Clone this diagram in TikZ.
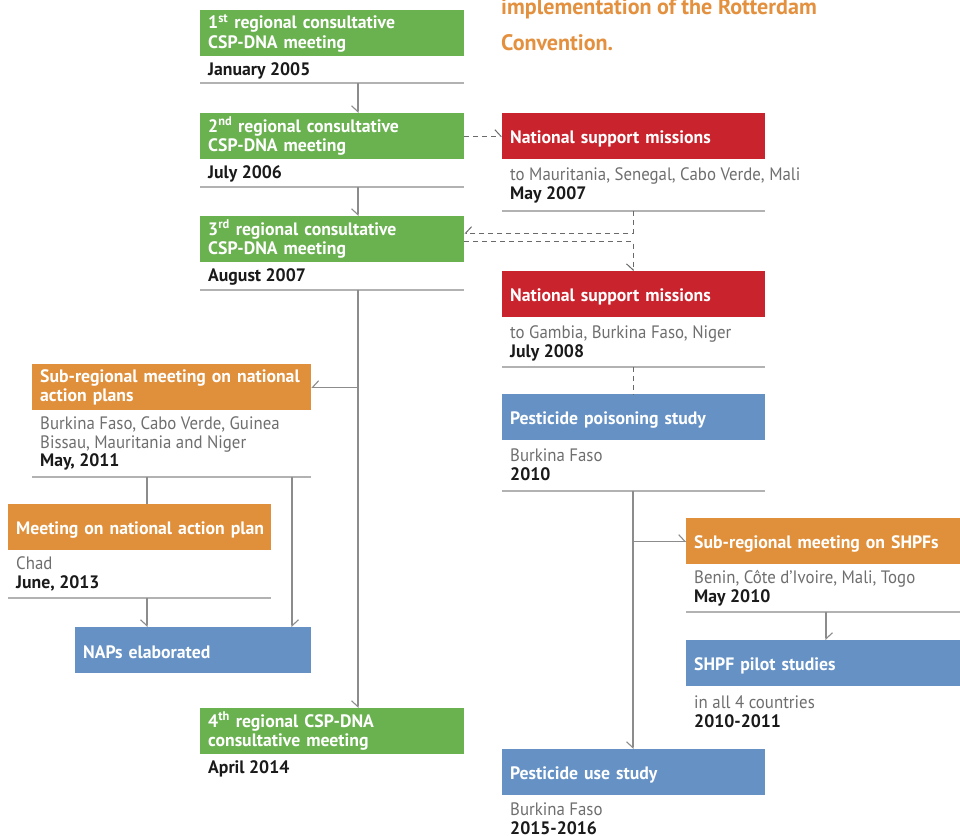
\documentclass[tikz,border=0pt]{standalone}
\usepackage{fontspec}
\setmainfont{PT Sans}[FakeStretch=0.935, BoldFeatures={FakeStretch=0.985}]
\usetikzlibrary{arrows.meta}
\definecolor{cgreen}{HTML}{6AB150}
\definecolor{cred}{HTML}{C9242D}
\definecolor{corange}{HTML}{E08F3A}
\definecolor{cblue}{HTML}{6591C5}
\definecolor{ctitle}{HTML}{E3903F}
\definecolor{ctext}{HTML}{6E6E6E}
\definecolor{cdate}{HTML}{1A1A1A}
\definecolor{csep}{HTML}{B2B2B2}
\definecolor{cconn}{HTML}{8C8C8C}
\definecolor{cdash}{HTML}{6A6A6A}
\newcommand\infobox[4][6]{\parbox[t][#2pt][t]{#3pt}{\raggedright\vspace*{#1pt}#4}}
\newcommand\dt[1]{{\bfseries\color{cdate}#1}}
\newcommand\low[1]{\raisebox{-2.5pt}[\height][\depth]{#1}}
\tikzset{
  box/.style={anchor=north west, inner xsep=8pt, inner ysep=0pt, minimum height=46pt, text width=#1, align=left, text=white, font=\fontsize{18}{19.5}\selectfont\bfseries},
  info/.style={anchor=north west, inner xsep=8pt, inner ysep=0pt, text=ctext, font=\fontsize{18}{18.7}\selectfont},
  sepline/.style={draw=csep, line width=1.4pt},
  conn/.style={draw=cconn, line width=1.1pt},
  dconn/.style={draw=cdash, line width=1pt, dash pattern=on 5pt off 4pt},
  tipl/.style={-{Straight Barb[harpoon,length=6pt,width=13pt]}},
  tipr/.style={-{Straight Barb[harpoon,swap,length=6pt,width=13pt]}},
  ttl/.style={anchor=base west, inner sep=0pt, text=ctitle, font=\fontsize{22.4}{37}\selectfont\bfseries},
}
\begin{document}
\begin{tikzpicture}[x=1pt,y=-1pt]
\useasboundingbox (0,0) rectangle (960,835);
\clip (0,0) rectangle (960,835);

% title fragment
\node[ttl] (t1) at (501,14) {implementation of the Rotterdam};
\node[ttl] (t2) at (501,50.5) {Convention.};

% trunk x positions
\coordinate (tL) at (358,0);
\coordinate (tR) at (633,0);
\coordinate (tS) at (826,0);
\coordinate (tA) at (147,0);
\coordinate (tB) at (292,0);

% left column
\node[box=248pt, fill=cgreen] (b1) at (200,10) {1\textsuperscript{st} regional consultative\\CSP-DNA meeting};
\node[info] (i1) at (b1.south west) {\infobox{26}{248}{\dt{January 2005}}};
\draw[sepline] (i1.south west) -- (i1.south east);

\node[box=248pt, fill=cgreen] (b2) at (200,113) {2\textsuperscript{nd} regional consultative\\CSP-DNA meeting};
\node[info] (i2) at (b2.south west) {\infobox{27}{248}{\dt{July 2006}}};
\draw[sepline] (i2.south west) -- (i2.south east);

\node[box=248pt, fill=cgreen] (b3) at (200,216) {3\textsuperscript{rd} regional consultative\\CSP-DNA meeting};
\node[info] (i3) at (b3.south west) {\infobox{27}{248}{\dt{August 2007}}};
\draw[sepline] (i3.south west) -- (i3.south east);

\node[box=248pt, fill=cgreen] (b4) at (200,708) {4\textsuperscript{th} regional CSP-DNA\\consultative meeting};
\node[info] (i4) at (b4.south west) {\infobox{26}{248}{\dt{April 2014}}};

% far left
\node[box=263pt, fill=corange] (sr) at (32,364) {Sub-regional meeting on national\\action plans};
\node[info] (sri) at (sr.south west) {\infobox{66}{263}{Burkina Faso, Cabo Verde, Guinea\\Bissau, Mauritania and Niger\\\dt{May, 2011}}};
\draw[sepline] (sri.south west) -- (sri.south east);

\node[box=247pt, fill=corange] (meet) at (8,504) {\low{Meeting on national action plan}};
\node[info] (mi) at (meet.south west) {\infobox{47}{247}{Chad\\\dt{June, 2013}}};
\draw[sepline] (mi.south west) -- (mi.south east);

\node[box=220pt, fill=cblue] (naps) at (75,627) {\low{NAPs elaborated}};

% right column
\node[box=247pt, fill=cred] (r1) at (502,113) {\low{National support missions}};
\node[info] (ri1) at (r1.south west) {\infobox[8.5]{51}{320}{to Mauritania, Senegal, Cabo Verde, Mali\\\dt{May 2007}}};
\draw[sepline] (ri1.south west) -- (ri1.south west -| r1.east);

\node[box=247pt, fill=cred] (r2) at (502,271) {\low{National support missions}};
\node[info] (ri2) at (r2.south west) {\infobox[8]{49}{247}{to Gambia, Burkina Faso, Niger\\\dt{July 2008}}};
\draw[sepline] (ri2.south west) -- (ri2.south east);

\node[box=247pt, fill=cblue] (p1) at (502,394) {\low{Pesticide poisoning study}};
\node[info] (pi1) at (p1.south west) {\infobox[8]{50}{247}{Burkina Faso\\\dt{2010}}};
\draw[sepline] (pi1.south west) -- (pi1.south east);

\node[box=247pt, fill=cblue] (pu) at (502,749) {\low{Pesticide use study}};
\node[info] (pui) at (pu.south west) {\infobox[7.5]{40}{247}{Burkina Faso\\\dt{2015-2016}}};

% far right
\node[box=258pt, fill=corange] (shpf) at (686,518) {\low{Sub-regional meeting on SHPFs}};
\node[info] (shi) at (shpf.south west) {\infobox{47}{258}{Benin, C\^ote d'Ivoire, Mali, Togo\\\dt{May 2010}}};
\draw[sepline] (shi.south west) -- (shi.south east);

\node[box=258pt, fill=cblue] (pilot) at (686,640) {\low{SHPF pilot studies}};
\node[info] (pli) at (pilot.south west) {\infobox[9.5]{40}{258}{in all 4 countries\\\dt{2010-2011}}};

% connectors
\draw[conn,tipr] (i1.south -| tL) -- (b2.north -| tL);
\draw[conn,tipr] (i2.south -| tL) -- (b3.north -| tL);
\draw[conn,tipr] (i3.south -| tL) -- (b4.north -| tL);
\draw[conn,tipr] (sr.east -| tL) -- (sr.east);
\draw[dconn,tipl] (b2.east) -- (r1.west);
\draw[dconn,tipr] (ri1.south -| tR) |- ([yshift=6pt]b3.east);
\draw[dconn,tipr] ([yshift=-2pt]b3.east) -| (r2.north -| tR);
\draw[dconn] (ri2.south -| tR) -- (p1.north -| tR);
\draw[conn,tipr] (pi1.south -| tR) -- (pu.north -| tR);
\draw[conn,tipl] (shpf.west -| tR) -- (shpf.west);
\draw[conn,tipl] (shi.south -| tS) -- (pilot.north -| tS);
\draw[conn] (sri.south -| tA) -- (meet.north -| tA);
\draw[conn,tipl] (sri.south -| tB) -- (naps.north -| tB);
\draw[conn,tipr] (mi.south -| tA) -- (naps.north -| tA);
\end{tikzpicture}
\end{document}
